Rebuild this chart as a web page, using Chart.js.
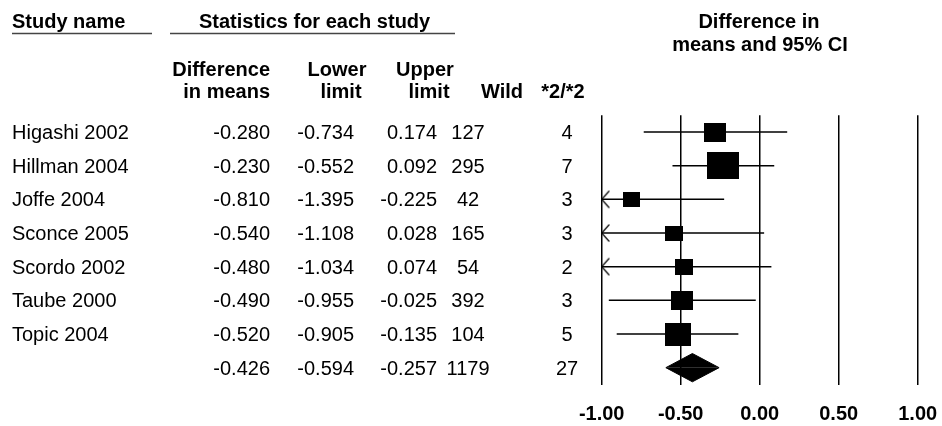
<!DOCTYPE html>
<html>
<head>
<meta charset="utf-8">
<script src="https://cdn.jsdelivr.net/npm/chart.js@4.4.0/dist/chart.umd.min.js"></script>
<style>
  html, body { margin: 0; padding: 0; background: #fff; }
  #wrap { width: 942px; height: 426px; }
</style>
</head>
<body>
<div id="wrap"><canvas id="forest" width="942" height="426"></canvas></div>
<script>
// Study level data
const studies = ['Higashi 2002', 'Hillman 2004', 'Joffe 2004', 'Sconce 2005', 'Scordo 2002', 'Taube 2000', 'Topic 2004'];
const diffMeans = [-0.280, -0.230, -0.810, -0.540, -0.480, -0.490, -0.520];
const lowerLimit = [-0.734, -0.552, -1.395, -1.108, -1.034, -0.955, -0.905];
const upperLimit = [0.174, 0.092, -0.225, 0.028, 0.074, -0.025, -0.135];
const wildCount = [127, 295, 42, 165, 54, 392, 104];
const star2Count = [4, 7, 3, 3, 2, 3, 5];

// Pooled estimate
const pooledDiff = -0.426;
const pooledLower = -0.594;
const pooledUpper = -0.257;
const pooledWild = 1179;
const pooledStar2 = 27;

const xTicks = [-1.0, -0.5, 0.0, 0.5, 1.0];

const FONT = '"Liberation Sans", Arial, Helvetica, sans-serif';
const X_MIN = -1, X_MAX = 1;
const summaryRow = studies.length + 1;
const diamondHalf = 0.42; // half height of the diamond, in rows

// box size follows inverse-variance weight (area ~ weight)
function boxImage(i) {
  const se = (upperLimit[i] - lowerLimit[i]) / (2 * 1.96);
  const c = document.createElement('canvas');
  c.width = Math.round(5.2 / se);
  c.height = Math.round(4.45 / se);
  const g = c.getContext('2d');
  g.fillStyle = '#000';
  g.fillRect(0, 0, c.width, c.height);
  return c;
}

// open arrow head "<", tip at the centre of the canvas
function arrowImage() {
  const c = document.createElement('canvas');
  c.width = 18; c.height = 20;
  const g = c.getContext('2d');
  g.strokeStyle = '#000';
  g.lineWidth = 1.2;
  g.beginPath();
  g.moveTo(9 + 7.5, 10 - 8.5);
  g.lineTo(9, 10);
  g.lineTo(9 + 7.5, 10 + 8.5);
  g.stroke();
  return c;
}

const boxes = studies.map((s, i) => boxImage(i));
const arrow = arrowImage();

const datasets = [];

// confidence interval lines
studies.forEach((s, i) => {
  datasets.push({
    type: 'line',
    data: [{ x: lowerLimit[i], y: i + 1 }, { x: upperLimit[i], y: i + 1 }],
    borderColor: '#000',
    borderWidth: 1.5,
    pointRadius: 0,
    fill: false
  });
});

// arrows where the interval runs past the axis
datasets.push({
  type: 'scatter',
  data: studies.map((s, i) => ({ x: X_MIN, y: i + 1 })).filter((p, i) => lowerLimit[i] < X_MIN),
  pointStyle: arrow,
  pointRadius: 5
});

// point estimates
datasets.push({
  type: 'scatter',
  data: studies.map((s, i) => ({ x: diffMeans[i], y: i + 1 })),
  pointStyle: ctx => boxes[ctx.dataIndex],
  pointRadius: 5
});

// pooled diamond, upper and lower halves
[-1, 1].forEach(dir => {
  datasets.push({
    type: 'line',
    data: [
      { x: pooledLower, y: summaryRow },
      { x: pooledDiff, y: summaryRow + dir * diamondHalf },
      { x: pooledUpper, y: summaryRow }
    ],
    borderColor: '#000',
    borderWidth: 1,
    backgroundColor: '#000',
    pointRadius: 0,
    tension: 0,
    fill: { value: summaryRow }
  });
});

function txt(ctx, s, x, y, align, bold) {
  ctx.font = (bold ? 'bold ' : '') + '20px ' + FONT;
  ctx.textAlign = align;
  ctx.fillText(s, x, y);
}

const tablePlugin = {
  id: 'tableText',
  afterDraw(chart) {
    const ctx = chart.ctx;
    const yScale = chart.scales.y;
    ctx.save();
    ctx.fillStyle = '#000';
    ctx.textBaseline = 'alphabetic';

    // headers
    txt(ctx, 'Study name', 12, 28, 'left', true);
    txt(ctx, 'Statistics for each study', 199, 28, 'left', true);
    txt(ctx, 'Difference in', 759, 28, 'center', true);
    txt(ctx, 'means and 95% CI', 760, 51, 'center', true);
    txt(ctx, 'Difference', 270, 76, 'right', true);
    txt(ctx, 'in means', 270, 98, 'right', true);
    txt(ctx, 'Lower', 337, 76, 'center', true);
    txt(ctx, 'limit', 341, 98, 'center', true);
    txt(ctx, 'Upper', 425, 76, 'center', true);
    txt(ctx, 'limit', 429, 98, 'center', true);
    txt(ctx, 'Wild', 502, 98, 'center', true);
    txt(ctx, '*2/*2', 563, 98, 'center', true);

    ctx.strokeStyle = '#444';
    ctx.lineWidth = 1.5;
    ctx.beginPath();
    ctx.moveTo(12, 33.5); ctx.lineTo(152, 33.5);
    ctx.moveTo(170, 33.5); ctx.lineTo(455, 33.5);
    ctx.stroke();

    // study rows and pooled row
    const rows = studies.map((s, i) => [s, diffMeans[i], lowerLimit[i], upperLimit[i], wildCount[i], star2Count[i]]);
    rows.push(['', pooledDiff, pooledLower, pooledUpper, pooledWild, pooledStar2]);
    rows.forEach((r, i) => {
      const y = yScale.getPixelForValue(i + 1) + 7;
      txt(ctx, r[0], 12, y, 'left', false);
      txt(ctx, r[1].toFixed(3), 270, y, 'right', false);
      txt(ctx, r[2].toFixed(3), 354, y, 'right', false);
      txt(ctx, r[3].toFixed(3), 437, y, 'right', false);
      txt(ctx, String(r[4]), 468, y, 'center', false);
      txt(ctx, String(r[5]), 567, y, 'center', false);
    });
    ctx.restore();
  }
};

new Chart(document.getElementById('forest'), {
  type: 'scatter',
  data: { datasets },
  options: {
    responsive: false,
    animation: false,
    devicePixelRatio: 1,
    layout: { padding: { left: 601.7, right: 24.3, top: 115.2, bottom: 0 } },
    plugins: {
      legend: { display: false },
      tooltip: { enabled: false }
    },
    scales: {
      x: {
        type: 'linear',
        min: X_MIN,
        max: X_MAX,
        afterBuildTicks: scale => { scale.ticks = xTicks.map(v => ({ value: v })); },
        // fixed axis band below the plot, no extra side padding for labels
        afterFit: scale => {
          scale.height = 41.5;
          scale.paddingLeft = 0;
          scale.paddingRight = 0;
        },
        ticks: {
          callback: v => Number(v).toFixed(2),
          color: '#000',
          padding: 18,
          font: { family: FONT, size: 20, weight: 'bold' }
        },
        grid: { color: '#000', lineWidth: 1.5, drawTicks: false },
        border: { display: false }
      },
      y: {
        type: 'linear',
        reverse: true,
        min: 0.5,
        max: 8.5,
        display: false
      }
    }
  },
  plugins: [tablePlugin]
});
</script>
</body>
</html>
